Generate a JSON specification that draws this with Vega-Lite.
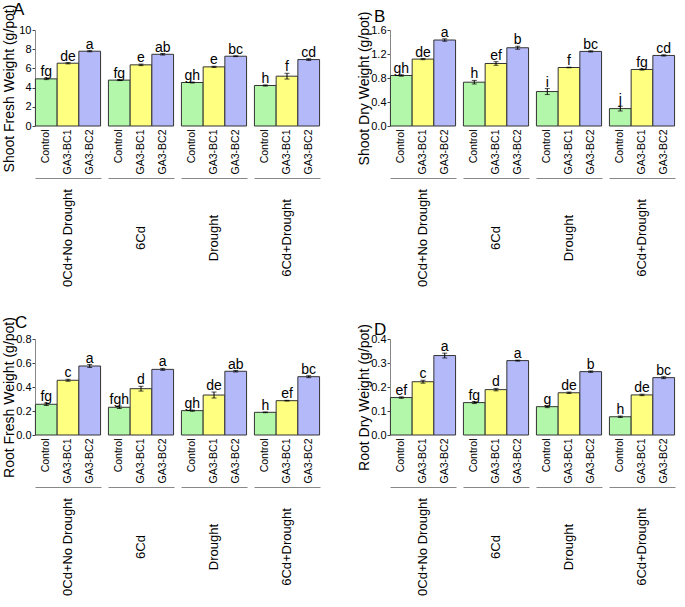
{
  "$schema": "https://vega.github.io/schema/vega-lite/v6.json",
  "padding": {"left": 1, "top": 1, "right": 0, "bottom": 0},
  "config": {
    "font": "Liberation Sans",
    "view": {"stroke": null},
    "axis": {"grid": false, "labelFont": "Liberation Sans", "titleFont": "Liberation Sans", "labelColor": "black", "titleColor": "black"},
    "axisY": {"titleX": -19, "titleY": 58, "titleAlign": "center", "titleBaseline": "bottom", "titleAngle": -90},
    "title": {"font": "Liberation Sans", "fontWeight": "normal", "fontSize": 17, "anchor": "start", "color": "black", "offset": -15}
  },
  "datasets": {
    "sfw": [
      {"cond": "0Cd+No Drought", "trt": "Control", "v": 4.91, "lo": 4.83, "hi": 4.99, "lab": "fg"},
      {"cond": "0Cd+No Drought", "trt": "GA3-BC1", "v": 6.54, "lo": 6.47, "hi": 6.61, "lab": "de"},
      {"cond": "0Cd+No Drought", "trt": "GA3-BC2", "v": 7.79, "lo": 7.73, "hi": 7.85, "lab": "a"},
      {"cond": "6Cd", "trt": "Control", "v": 4.78, "lo": 4.73, "hi": 4.83, "lab": "fg"},
      {"cond": "6Cd", "trt": "GA3-BC1", "v": 6.37, "lo": 6.29, "hi": 6.45, "lab": "e"},
      {"cond": "6Cd", "trt": "GA3-BC2", "v": 7.47, "lo": 7.39, "hi": 7.55, "lab": "ab"},
      {"cond": "Drought", "trt": "Control", "v": 4.53, "lo": 4.48, "hi": 4.58, "lab": "gh"},
      {"cond": "Drought", "trt": "GA3-BC1", "v": 6.16, "lo": 6.1, "hi": 6.22, "lab": "e"},
      {"cond": "Drought", "trt": "GA3-BC2", "v": 7.27, "lo": 7.23, "hi": 7.31, "lab": "bc"},
      {"cond": "6Cd+Drought", "trt": "Control", "v": 4.22, "lo": 4.16, "hi": 4.28, "lab": "h"},
      {"cond": "6Cd+Drought", "trt": "GA3-BC1", "v": 5.19, "lo": 4.89, "hi": 5.49, "lab": "f"},
      {"cond": "6Cd+Drought", "trt": "GA3-BC2", "v": 6.92, "lo": 6.83, "hi": 7.01, "lab": "cd"}
    ],
    "sdw": [
      {"cond": "0Cd+No Drought", "trt": "Control", "v": 0.842, "lo": 0.83, "hi": 0.854, "lab": "gh"},
      {"cond": "0Cd+No Drought", "trt": "GA3-BC1", "v": 1.115, "lo": 1.105, "hi": 1.125, "lab": "de"},
      {"cond": "0Cd+No Drought", "trt": "GA3-BC2", "v": 1.433, "lo": 1.413, "hi": 1.453, "lab": "a"},
      {"cond": "6Cd", "trt": "Control", "v": 0.73, "lo": 0.7, "hi": 0.76, "lab": "h"},
      {"cond": "6Cd", "trt": "GA3-BC1", "v": 1.042, "lo": 1.012, "hi": 1.072, "lab": "ef"},
      {"cond": "6Cd", "trt": "GA3-BC2", "v": 1.304, "lo": 1.279, "hi": 1.329, "lab": "b"},
      {"cond": "Drought", "trt": "Control", "v": 0.574, "lo": 0.524, "hi": 0.624, "lab": "i"},
      {"cond": "Drought", "trt": "GA3-BC1", "v": 0.975, "lo": 0.97, "hi": 0.98, "lab": "f"},
      {"cond": "Drought", "trt": "GA3-BC2", "v": 1.243, "lo": 1.233, "hi": 1.253, "lab": "bc"},
      {"cond": "6Cd+Drought", "trt": "Control", "v": 0.29, "lo": 0.25, "hi": 0.33, "lab": "j"},
      {"cond": "6Cd+Drought", "trt": "GA3-BC1", "v": 0.942, "lo": 0.932, "hi": 0.952, "lab": "fg"},
      {"cond": "6Cd+Drought", "trt": "GA3-BC2", "v": 1.176, "lo": 1.166, "hi": 1.186, "lab": "cd"}
    ],
    "rfw": [
      {"cond": "0Cd+No Drought", "trt": "Control", "v": 0.256, "lo": 0.246, "hi": 0.266, "lab": "fg"},
      {"cond": "0Cd+No Drought", "trt": "GA3-BC1", "v": 0.456, "lo": 0.448, "hi": 0.464, "lab": "c"},
      {"cond": "0Cd+No Drought", "trt": "GA3-BC2", "v": 0.575, "lo": 0.563, "hi": 0.587, "lab": "a"},
      {"cond": "6Cd", "trt": "Control", "v": 0.231, "lo": 0.221, "hi": 0.241, "lab": "fgh"},
      {"cond": "6Cd", "trt": "GA3-BC1", "v": 0.386, "lo": 0.366, "hi": 0.406, "lab": "d"},
      {"cond": "6Cd", "trt": "GA3-BC2", "v": 0.547, "lo": 0.539, "hi": 0.555, "lab": "a"},
      {"cond": "Drought", "trt": "Control", "v": 0.203, "lo": 0.198, "hi": 0.208, "lab": "gh"},
      {"cond": "Drought", "trt": "GA3-BC1", "v": 0.333, "lo": 0.308, "hi": 0.358, "lab": "de"},
      {"cond": "Drought", "trt": "GA3-BC2", "v": 0.531, "lo": 0.525, "hi": 0.537, "lab": "ab"},
      {"cond": "6Cd+Drought", "trt": "Control", "v": 0.189, "lo": 0.186, "hi": 0.192, "lab": "h"},
      {"cond": "6Cd+Drought", "trt": "GA3-BC1", "v": 0.286, "lo": 0.283, "hi": 0.289, "lab": "ef"},
      {"cond": "6Cd+Drought", "trt": "GA3-BC2", "v": 0.486, "lo": 0.478, "hi": 0.494, "lab": "bc"}
    ],
    "rdw": [
      {"cond": "0Cd+No Drought", "trt": "Control", "v": 0.156, "lo": 0.153, "hi": 0.159, "lab": "ef"},
      {"cond": "0Cd+No Drought", "trt": "GA3-BC1", "v": 0.222, "lo": 0.216, "hi": 0.228, "lab": "c"},
      {"cond": "0Cd+No Drought", "trt": "GA3-BC2", "v": 0.331, "lo": 0.321, "hi": 0.341, "lab": "a"},
      {"cond": "6Cd", "trt": "Control", "v": 0.135, "lo": 0.131, "hi": 0.139, "lab": "fg"},
      {"cond": "6Cd", "trt": "GA3-BC1", "v": 0.189, "lo": 0.184, "hi": 0.194, "lab": "d"},
      {"cond": "6Cd", "trt": "GA3-BC2", "v": 0.31, "lo": 0.308, "hi": 0.312, "lab": "a"},
      {"cond": "Drought", "trt": "Control", "v": 0.118, "lo": 0.114, "hi": 0.122, "lab": "g"},
      {"cond": "Drought", "trt": "GA3-BC1", "v": 0.176, "lo": 0.173, "hi": 0.179, "lab": "de"},
      {"cond": "Drought", "trt": "GA3-BC2", "v": 0.264, "lo": 0.261, "hi": 0.267, "lab": "b"},
      {"cond": "6Cd+Drought", "trt": "Control", "v": 0.076, "lo": 0.073, "hi": 0.079, "lab": "h"},
      {"cond": "6Cd+Drought", "trt": "GA3-BC1", "v": 0.167, "lo": 0.164, "hi": 0.17, "lab": "de"},
      {"cond": "6Cd+Drought", "trt": "GA3-BC2", "v": 0.239, "lo": 0.235, "hi": 0.243, "lab": "bc"}
    ]
  },
  "vconcat": [
    {
      "hconcat": [
        {
          "title": {"text": "A", "dx": 11},
          "data": {"name": "sfw"},
          "facet": {"column": {"field": "cond", "type": "nominal", "sort": ["0Cd+No Drought", "6Cd", "Drought", "6Cd+Drought"], "header": {"title": null, "labelOrient": "bottom", "labelAngle": -90, "labelAlign": "center", "labelBaseline": "middle", "labelFontSize": 13, "labelColor": "black", "labelPadding": 60}}},
          "spacing": 7,
          "bounds": "flush",
          "spec": {
            "width": 66, "height": 96,
            "encoding": {
              "x": {"field": "trt", "type": "nominal", "sort": ["Control", "GA3-BC1", "GA3-BC2"], "scale": {"paddingInner": 0, "paddingOuter": 0.02}, "axis": {"title": null, "labelAngle": -90, "labelAlign": "right", "labelBaseline": "middle", "ticks": false, "tickSize": 0, "domainColor": "#888", "offset": 52, "labelPadding": -49, "labelFontSize": 10.5}},
              "y": {"field": "v", "type": "quantitative", "title": "Shoot Fresh Weight (g/pot)", "scale": {"domain": [0, 10], "nice": false}, "axis": {"values": [0, 2, 4, 6, 8, 10], "tickSize": 3, "tickColor": "#444", "domainColor": "#888", "labelFontSize": 11, "labelPadding": 1, "titleFontSize": 14, "titleFontWeight": "normal"}}
            },
            "layer": [
              {"mark": {"type": "bar", "stroke": "#333", "strokeWidth": 1}, "encoding": {"color": {"field": "trt", "type": "nominal", "scale": {"domain": ["Control", "GA3-BC1", "GA3-BC2"], "range": ["#b3f8aa", "#ffff80", "#b4b9f9"]}, "legend": null}}},
              {"mark": {"type": "errorbar", "color": "black", "thickness": 1, "ticks": {"size": 5, "color": "black"}}, "encoding": {"y": {"field": "lo", "type": "quantitative", "title": "Shoot Fresh Weight (g/pot)", "scale": {"domain": [0, 10], "nice": false}, "axis": {"values": [0, 2, 4, 6, 8, 10], "tickSize": 3, "tickColor": "#444", "domainColor": "#888", "labelFontSize": 11, "labelPadding": 1, "titleFontSize": 14, "titleFontWeight": "normal"}}, "y2": {"field": "hi"}}},
              {"mark": {"type": "text", "dy": -2, "baseline": "alphabetic", "fontSize": 14, "color": "black"}, "encoding": {"y": {"field": "hi", "type": "quantitative", "title": "Shoot Fresh Weight (g/pot)", "scale": {"domain": [0, 10], "nice": false}, "axis": {"values": [0, 2, 4, 6, 8, 10], "tickSize": 3, "tickColor": "#444", "domainColor": "#888", "labelFontSize": 11, "labelPadding": 1, "titleFontSize": 14, "titleFontWeight": "normal"}}, "text": {"field": "lab"}}},
              {"mark": {"type": "rule", "color": "#888"}, "encoding": {"y": {"datum": 0}}}
            ]
          }
        },
        {
          "title": {"text": "B", "dx": 17},
          "data": {"name": "sdw"},
          "facet": {"column": {"field": "cond", "type": "nominal", "sort": ["0Cd+No Drought", "6Cd", "Drought", "6Cd+Drought"], "header": {"title": null, "labelOrient": "bottom", "labelAngle": -90, "labelAlign": "center", "labelBaseline": "middle", "labelFontSize": 13, "labelColor": "black", "labelPadding": 60}}},
          "spacing": 7,
          "bounds": "flush",
          "spec": {
            "width": 66, "height": 96,
            "encoding": {
              "x": {"field": "trt", "type": "nominal", "sort": ["Control", "GA3-BC1", "GA3-BC2"], "scale": {"paddingInner": 0, "paddingOuter": 0.02}, "axis": {"title": null, "labelAngle": -90, "labelAlign": "right", "labelBaseline": "middle", "ticks": false, "tickSize": 0, "domainColor": "#888", "offset": 52, "labelPadding": -49, "labelFontSize": 10.5}},
              "y": {"field": "v", "type": "quantitative", "title": "Shoot Dry Weight (g/pot)", "scale": {"domain": [0, 1.6], "nice": false}, "axis": {"values": [0, 0.4, 0.8, 1.2, 1.6], "format": ".1f", "tickSize": 3, "tickColor": "#444", "domainColor": "#888", "labelFontSize": 11, "labelPadding": 1, "titleFontSize": 14, "titleFontWeight": "normal"}}
            },
            "layer": [
              {"mark": {"type": "bar", "stroke": "#333", "strokeWidth": 1}, "encoding": {"color": {"field": "trt", "type": "nominal", "scale": {"domain": ["Control", "GA3-BC1", "GA3-BC2"], "range": ["#b3f8aa", "#ffff80", "#b4b9f9"]}, "legend": null}}},
              {"mark": {"type": "errorbar", "color": "black", "thickness": 1, "ticks": {"size": 5, "color": "black"}}, "encoding": {"y": {"field": "lo", "type": "quantitative", "title": "Shoot Dry Weight (g/pot)", "scale": {"domain": [0, 1.6], "nice": false}, "axis": {"values": [0, 0.4, 0.8, 1.2, 1.6], "format": ".1f", "tickSize": 3, "tickColor": "#444", "domainColor": "#888", "labelFontSize": 11, "labelPadding": 1, "titleFontSize": 14, "titleFontWeight": "normal"}}, "y2": {"field": "hi"}}},
              {"mark": {"type": "text", "dy": -2, "baseline": "alphabetic", "fontSize": 14, "color": "black"}, "encoding": {"y": {"field": "hi", "type": "quantitative", "title": "Shoot Dry Weight (g/pot)", "scale": {"domain": [0, 1.6], "nice": false}, "axis": {"values": [0, 0.4, 0.8, 1.2, 1.6], "format": ".1f", "tickSize": 3, "tickColor": "#444", "domainColor": "#888", "labelFontSize": 11, "labelPadding": 1, "titleFontSize": 14, "titleFontWeight": "normal"}}, "text": {"field": "lab"}}},
              {"mark": {"type": "rule", "color": "#888"}, "encoding": {"y": {"datum": 0}}}
            ]
          }
        }
      ],
      "spacing": 35
    },
    {
      "hconcat": [
        {
          "title": {"text": "C", "dx": 13},
          "data": {"name": "rfw"},
          "facet": {"column": {"field": "cond", "type": "nominal", "sort": ["0Cd+No Drought", "6Cd", "Drought", "6Cd+Drought"], "header": {"title": null, "labelOrient": "bottom", "labelAngle": -90, "labelAlign": "center", "labelBaseline": "middle", "labelFontSize": 13, "labelColor": "black", "labelPadding": 60}}},
          "spacing": 7,
          "bounds": "flush",
          "spec": {
            "width": 66, "height": 96,
            "encoding": {
              "x": {"field": "trt", "type": "nominal", "sort": ["Control", "GA3-BC1", "GA3-BC2"], "scale": {"paddingInner": 0, "paddingOuter": 0.02}, "axis": {"title": null, "labelAngle": -90, "labelAlign": "right", "labelBaseline": "middle", "ticks": false, "tickSize": 0, "domainColor": "#888", "offset": 52, "labelPadding": -49, "labelFontSize": 10.5}},
              "y": {"field": "v", "type": "quantitative", "title": "Root Fresh Weight (g/pot)", "scale": {"domain": [0, 0.8], "nice": false}, "axis": {"values": [0, 0.2, 0.4, 0.6, 0.8], "format": ".1f", "tickSize": 3, "tickColor": "#444", "domainColor": "#888", "labelFontSize": 11, "labelPadding": 1, "titleFontSize": 14, "titleFontWeight": "normal"}}
            },
            "layer": [
              {"mark": {"type": "bar", "stroke": "#333", "strokeWidth": 1}, "encoding": {"color": {"field": "trt", "type": "nominal", "scale": {"domain": ["Control", "GA3-BC1", "GA3-BC2"], "range": ["#b3f8aa", "#ffff80", "#b4b9f9"]}, "legend": null}}},
              {"mark": {"type": "errorbar", "color": "black", "thickness": 1, "ticks": {"size": 5, "color": "black"}}, "encoding": {"y": {"field": "lo", "type": "quantitative", "title": "Root Fresh Weight (g/pot)", "scale": {"domain": [0, 0.8], "nice": false}, "axis": {"values": [0, 0.2, 0.4, 0.6, 0.8], "format": ".1f", "tickSize": 3, "tickColor": "#444", "domainColor": "#888", "labelFontSize": 11, "labelPadding": 1, "titleFontSize": 14, "titleFontWeight": "normal"}}, "y2": {"field": "hi"}}},
              {"mark": {"type": "text", "dy": -2, "baseline": "alphabetic", "fontSize": 14, "color": "black"}, "encoding": {"y": {"field": "hi", "type": "quantitative", "title": "Root Fresh Weight (g/pot)", "scale": {"domain": [0, 0.8], "nice": false}, "axis": {"values": [0, 0.2, 0.4, 0.6, 0.8], "format": ".1f", "tickSize": 3, "tickColor": "#444", "domainColor": "#888", "labelFontSize": 11, "labelPadding": 1, "titleFontSize": 14, "titleFontWeight": "normal"}}, "text": {"field": "lab"}}},
              {"mark": {"type": "rule", "color": "#888"}, "encoding": {"y": {"datum": 0}}}
            ]
          }
        },
        {
          "title": {"text": "D", "dx": 17},
          "data": {"name": "rdw"},
          "facet": {"column": {"field": "cond", "type": "nominal", "sort": ["0Cd+No Drought", "6Cd", "Drought", "6Cd+Drought"], "header": {"title": null, "labelOrient": "bottom", "labelAngle": -90, "labelAlign": "center", "labelBaseline": "middle", "labelFontSize": 13, "labelColor": "black", "labelPadding": 60}}},
          "spacing": 7,
          "bounds": "flush",
          "spec": {
            "width": 66, "height": 96,
            "encoding": {
              "x": {"field": "trt", "type": "nominal", "sort": ["Control", "GA3-BC1", "GA3-BC2"], "scale": {"paddingInner": 0, "paddingOuter": 0.02}, "axis": {"title": null, "labelAngle": -90, "labelAlign": "right", "labelBaseline": "middle", "ticks": false, "tickSize": 0, "domainColor": "#888", "offset": 52, "labelPadding": -49, "labelFontSize": 10.5}},
              "y": {"field": "v", "type": "quantitative", "title": "Root Dry Weight (g/pot)", "scale": {"domain": [0, 0.4], "nice": false}, "axis": {"values": [0, 0.1, 0.2, 0.3, 0.4], "format": ".1f", "tickSize": 3, "tickColor": "#444", "domainColor": "#888", "labelFontSize": 11, "labelPadding": 1, "titleFontSize": 14, "titleFontWeight": "normal"}}
            },
            "layer": [
              {"mark": {"type": "bar", "stroke": "#333", "strokeWidth": 1}, "encoding": {"color": {"field": "trt", "type": "nominal", "scale": {"domain": ["Control", "GA3-BC1", "GA3-BC2"], "range": ["#b3f8aa", "#ffff80", "#b4b9f9"]}, "legend": null}}},
              {"mark": {"type": "errorbar", "color": "black", "thickness": 1, "ticks": {"size": 5, "color": "black"}}, "encoding": {"y": {"field": "lo", "type": "quantitative", "title": "Root Dry Weight (g/pot)", "scale": {"domain": [0, 0.4], "nice": false}, "axis": {"values": [0, 0.1, 0.2, 0.3, 0.4], "format": ".1f", "tickSize": 3, "tickColor": "#444", "domainColor": "#888", "labelFontSize": 11, "labelPadding": 1, "titleFontSize": 14, "titleFontWeight": "normal"}}, "y2": {"field": "hi"}}},
              {"mark": {"type": "text", "dy": -2, "baseline": "alphabetic", "fontSize": 14, "color": "black"}, "encoding": {"y": {"field": "hi", "type": "quantitative", "title": "Root Dry Weight (g/pot)", "scale": {"domain": [0, 0.4], "nice": false}, "axis": {"values": [0, 0.1, 0.2, 0.3, 0.4], "format": ".1f", "tickSize": 3, "tickColor": "#444", "domainColor": "#888", "labelFontSize": 11, "labelPadding": 1, "titleFontSize": 14, "titleFontWeight": "normal"}}, "text": {"field": "lab"}}},
              {"mark": {"type": "rule", "color": "#888"}, "encoding": {"y": {"datum": 0}}}
            ]
          }
        }
      ],
      "spacing": 35
    }
  ],
  "spacing": 26
}
